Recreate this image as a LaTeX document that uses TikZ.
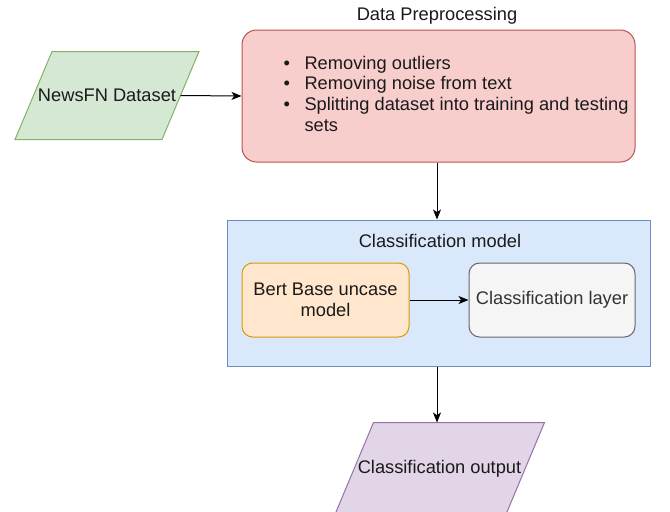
\documentclass[tikz,border=0pt]{standalone}
\usepackage{fontspec}
\setmainfont{Liberation Sans}
\usetikzlibrary{arrows.meta,backgrounds}
\definecolor{redfill}{HTML}{F8CECC}
\definecolor{redline}{HTML}{B85450}
\definecolor{bluefill}{HTML}{DAE8FC}
\definecolor{blueline}{HTML}{6C8EBF}
\definecolor{greenfill}{HTML}{D5E8D4}
\definecolor{greenline}{HTML}{82B366}
\definecolor{orangefill}{HTML}{FFE6CC}
\definecolor{orangeline}{HTML}{D79B00}
\definecolor{greyfill}{HTML}{F5F5F5}
\definecolor{greyline}{HTML}{666666}
\definecolor{greytext}{HTML}{333333}
\definecolor{purplefill}{HTML}{E1D5E7}
\definecolor{purpleline}{HTML}{9673A6}
\definecolor{txt}{HTML}{1A1A1A}
\tikzset{
  base/.style={font=\fontsize{13.7}{15.5}\selectfont, text=txt, line width=0.75pt, inner sep=0pt},
  paratext/.style={base, rectangle, minimum height=65.25pt},
  rbox/.style={base, rectangle, rounded corners=8pt},
  label/.style={base},
  conn/.style={line width=0.75pt, -{Stealth[length=7.5pt,width=6pt,inset=2pt]}},
}
\newcommand{\paraback}[4]{% node, fill, draw, slant(px half)
  \begin{pgfonlayer}{background}
  \draw[line width=0.75pt, fill=#2, draw=#3]
    ([xshift=#4*0.75pt]#1.north west) -- ([xshift=#4*0.75pt]#1.north east)
    -- ([xshift=-#4*0.75pt]#1.south east) -- ([xshift=-#4*0.75pt]#1.south west) -- cycle;
  \end{pgfonlayer}}
\begin{document}
\begin{tikzpicture}[x=0.75pt,y=-0.75pt]
\useasboundingbox (0,0) rectangle (670,511);
\clip (0,0) rectangle (670,511);
\begin{pgfonlayer}{background}
\fill[white] (0,0) rectangle (670,511);
\end{pgfonlayer}
% input
\node[paratext, minimum width=109.5pt] (news) at (107,95.5) {NewsFN Dataset};
\paraback{news}{greenfill}{greenline}{18.5}
% preprocessing
\node[label] (preplabel) at (437,16) {Data Preprocessing};
\node[rbox, draw=redline, fill=redfill, minimum width=294.75pt, minimum height=99pt, rounded corners=11pt] (prep) at (438.5,96) {};
\node[base, anchor=west] (preptext) at (283,96) {\begin{tabular}{@{}l@{\hspace{11pt}}l@{}}
\textbullet & Removing outliers\\
\textbullet & Removing noise from text\\
\textbullet & Splitting dataset into training and testing\\
 & sets
\end{tabular}};
% classification model
\node[base, rectangle, draw=blueline, fill=bluefill, minimum width=317.25pt, minimum height=109.5pt] (model) at (438.5,293) {};
\node[label] (modellabel) at (440,241) {Classification model};
\node[rbox, draw=orangeline, fill=orangefill, minimum width=125.25pt, minimum height=55.5pt, align=center] (bert) at (325.5,300) {Bert Base uncase\\model};
\node[rbox, draw=greyline, fill=greyfill, text=greytext, minimum width=124.5pt, minimum height=55.5pt] (layer) at (552,300) {Classification layer};
% output
\node[paratext, minimum width=127.5pt, minimum height=69pt] (out) at (439.5,469) {Classification output};
\paraback{out}{purplefill}{purpleline}{19.5}
% connectors
\draw[conn] (news.east) -- (prep.west);
\draw[conn] (prep.south -| 437,0) -- (model.north -| 437,0);
\draw[conn] (bert.east) -- (layer.west);
\draw[conn] (model.south -| 437,0) -- (out.north -| 437,0);
\end{tikzpicture}
\end{document}
